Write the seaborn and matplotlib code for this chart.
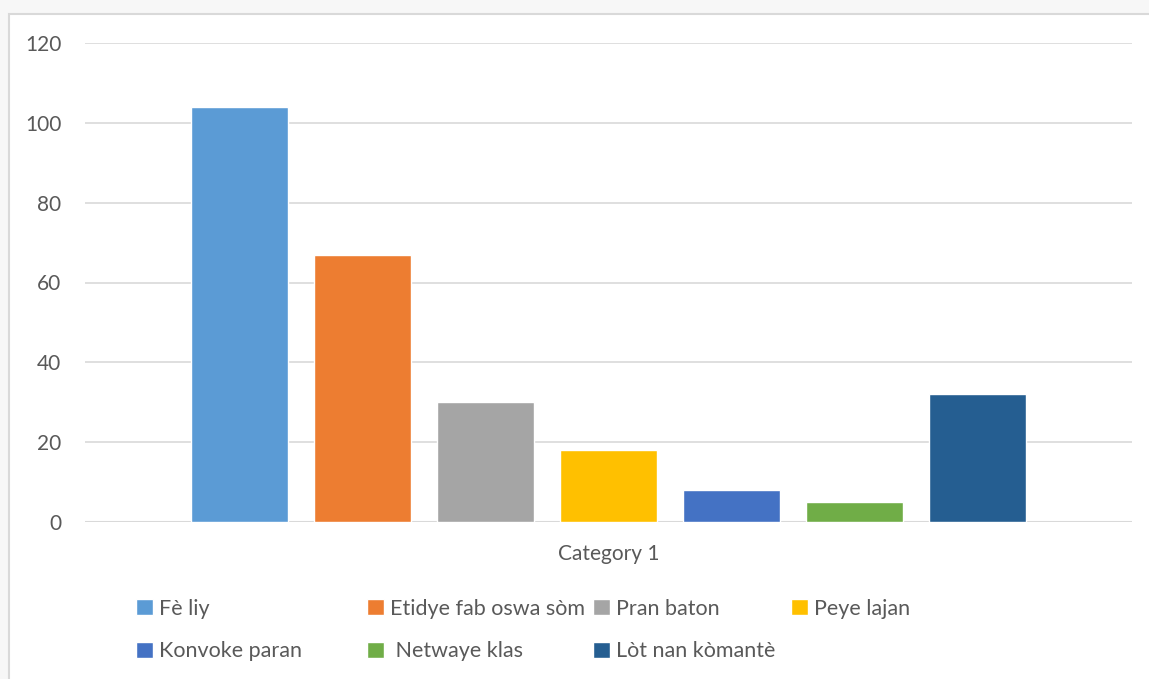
import matplotlib
matplotlib.use("Agg")
import matplotlib.pyplot as plt
from matplotlib.patches import Rectangle
import pandas as pd
import seaborn as sns

categories = ["Category 1"]
series = ["Fè liy", "Etidye fab oswa sòm", "Pran baton", "Peye lajan",
          "Konvoke paran", " Netwaye klas", "Lòt nan kòmantè"]
values = [104, 67, 30, 18, 8, 5, 32]
colors = ["#5B9BD5", "#ED7D31", "#A5A5A5", "#FFC000", "#4472C4", "#70AD47", "#255E91"]
y_ticks = [0, 20, 40, 60, 80, 100, 120]

df = pd.DataFrame({"category": categories * len(series), "series": series, "value": values})

sns.set_style("white")
plt.rcParams["font.family"] = ["Lato", "DejaVu Sans"]
text_color = "#595959"
grid_color = "#D9D9D9"

fig = plt.figure(figsize=(11.49, 6.79), dpi=100)
fig.patch.set_facecolor("#F7F7F7")
# white chart area with thin border
fig.patches.append(Rectangle((9 / 1149, -0.1), 1.1, 1 - 14 / 679 + 0.1,
                             transform=fig.transFigure, facecolor="white",
                             edgecolor=grid_color, linewidth=1.5, zorder=-5))

ax = fig.add_axes([85 / 1149, 1 - 522 / 679, (1132 - 85) / 1149, (522 - 43) / 679])
ax.set_facecolor("none")

sns.barplot(data=df, x="category", y="value", hue="series", hue_order=series,
            palette=colors, saturation=1, errorbar=None, width=0.823, gap=0.21,
            ax=ax, zorder=3)

handles, labels = ax.get_legend_handles_labels()
if ax.get_legend() is not None:
    ax.get_legend().remove()

ax.set_xlim(-0.5, 0.5)
ax.set_ylim(0, 120)
ax.set_yticks(y_ticks)
ax.yaxis.grid(True, color=grid_color, linewidth=1.2, zorder=0)
ax.set_axisbelow(True)
for s in ax.spines.values():
    s.set_visible(False)
ax.axhline(0, color=grid_color, linewidth=1.5, zorder=2)
ax.tick_params(axis="y", length=0, pad=17, labelsize=15, labelcolor=text_color)
ax.tick_params(axis="x", length=0, pad=16, labelsize=15, labelcolor=text_color)
ax.set_xlabel("")
ax.set_ylabel("")

# legend laid out in columns like the original
hmap = dict(zip(labels, handles))
columns = [(136, [series[0], series[4]]),
           (367, [series[1], series[5]]),
           (593, [series[2], series[6]]),
           (791, [series[3]])]
for x_px, names in columns:
    fig.legend([hmap[n] for n in names], names,
               loc="upper left", bbox_to_anchor=((x_px - 11) / 1149, 1 - 588 / 679),
               bbox_transform=fig.transFigure, frameon=False, fontsize=15.5,
               labelcolor=text_color, handlelength=0.78, handleheight=0.78,
               handletextpad=0.3, labelspacing=1.05, borderpad=0)

fig.savefig("out.png", dpi=100, facecolor=fig.get_facecolor())
